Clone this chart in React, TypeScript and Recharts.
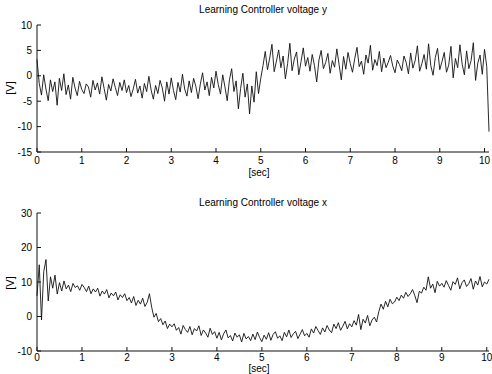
import React from "react";
import { LineChart, Line, XAxis, YAxis } from "recharts";

const SAMPLE_STEP = 0.05; // seconds between samples, 0..10 s

const voltageY = [
  3.2, -1.5, -3.8, 0.2, -2.6, -4.9, -0.8, -3.1, -1.2, -5.8, -0.5, -2.9, 0.4, -3.7, -1.8, -4.6, -0.3, -2.4, -3.9, -1.1, -2.7,
  -3.5, -1.6, -2.2, -4.2, -0.9, -2.8, -1.4, -3.6, -0.2, -2.5, -4.8, -1.7, -3.0, -0.6, -2.3, -3.9, -1.3, -2.9, -0.8, -3.3,
  -1.9, -4.1, -2.6, -0.7, -3.4, -2.0, -4.4, -1.5, -3.1, -0.1, -2.8, -4.6, -1.9, -3.5, -0.9, -2.4, -5.0, -1.2, -3.6, -0.4,
  -2.9, -4.7, -1.3, -3.2, 0.3, -2.6, -4.0, -1.0, -3.3, -0.5, -2.1, -4.5, -1.6, 0.6, -2.8, -1.2, -3.9, -0.3, -2.4, 0.9,
  -1.7, -3.6, 0.2, -2.2, -4.9, -0.8, 1.4, -3.1, -1.0, -6.5, -2.5, 0.5, -4.2, -1.6, -7.5, -2.0, -5.2, 0.8, -3.5, -0.5, 2.0,
  4.8, 1.2, 3.5, 6.2, 0.8, 2.9, 5.1, 1.6, 3.9, -0.6, 2.4, 6.4, 1.0, 3.3, 4.7, 0.2, 2.8, 5.5, 1.9, 3.6,
  0.9, 4.2, 2.0, -1.2, 3.1, 5.0, 1.4, 2.6, 4.4, 0.5, 3.0, 1.7, 5.3, 2.2, -0.8, 3.8, 1.3, 4.6, 2.4, 0.7,
  3.4, 5.6, 1.8, 2.9, 0.3, 4.1, 2.5, 6.0, 1.1, 3.2, 2.0, 4.8, 0.8, 3.5, 1.6, 2.7, 4.0, 1.9, 0.6, 3.1,
  2.2, 1.0, 3.9, 2.6, 0.4, 4.5, 1.5, 3.0, 5.9, 0.9, 2.4, 4.2, 1.3, 6.3, 2.0, 0.1, 3.6, 5.4, 1.2, 2.8,
  4.6, 0.7, 2.1, 5.8, -0.4, 3.4, 1.6, 6.1, 2.3, 0.2, 4.9, 1.4, 3.0, 6.5, -0.9, 2.5, 4.1, 0.3, 5.2, 1.8, -11.0,
];

const voltageX = [
  6.0, 15.0, -1.0, 13.0, 16.5, 4.5, 11.5, 8.2, 12.0, 6.5, 9.8, 7.4, 10.3, 8.0, 9.1, 7.2, 9.6, 8.4, 8.9, 7.6, 9.3,
  8.4, 7.2, 8.8, 6.6, 8.0, 7.1, 8.2, 5.9, 7.4, 6.5, 7.8, 5.4, 6.8, 6.0, 7.1, 4.8, 6.3, 5.5, 6.6, 4.6,
  5.5, 3.9, 5.8, 3.2, 4.7, 3.6, 5.3, 2.9, 4.1, 6.6, 2.7, -0.2, 0.9, -1.5, -0.6, -2.4, -1.3, -3.5, -2.2, -3.0,
  -2.1, -4.0, -3.2, -5.1, -2.6, -3.8, -4.6, -2.9, -5.3, -3.5, -4.2, -2.7, -5.5, -3.9, -4.8, -6.0, -3.4, -5.2, -4.4, -6.3,
  -4.6, -6.8, -5.0, -3.9, -6.2, -5.5, -7.1, -4.8, -6.0, -5.3, -7.4, -4.9, -6.5, -5.8, -7.0, -5.1, -6.7, -4.5, -6.1, -7.3,
  -5.4, -6.6, -4.7, -6.9, -5.2, -4.4, -6.3, -5.6, -7.0, -4.6, -5.9, -3.9, -6.1, -5.0, -4.3, -6.4, -5.1, -3.8, -5.6, -4.9,
  -6.0, -3.6, -4.8, -2.9, -4.1, -5.2, -3.3, -4.5, -2.6, -3.9, -4.7, -2.2, -3.5, -1.8, -4.0, -2.8, -1.4, -3.6, -2.1, -3.0,
  -1.2, -2.5, 0.6, -3.8, -0.8, -1.9, 0.3, -2.7, -1.0, -0.2, -1.6, 1.4, 3.6, 2.1, 4.4, 2.8, 5.0, 3.7, 4.2, 5.6,
  4.6, 6.2, 5.3, 7.0, 5.8, 6.6, 7.8, 6.1, 4.0, 7.3, 6.8, 8.5, 7.6, 11.5, 8.2, 9.4, 6.9, 10.2, 8.8, 9.6,
  8.5, 10.4, 9.0, 7.6, 10.1, 9.3, 11.2, 8.0, 9.8, 10.6, 8.7, 9.5, 11.0, 7.9, 10.3, 9.1, 11.6, 8.6, 10.0, 9.4, 10.8,
];

const timeTicks = [0, 1, 2, 3, 4, 5, 6, 7, 8, 9, 10];
const yTicksTop = [-15, -10, -5, 0, 5, 10];
const yTicksBottom = [-10, 0, 10, 20, 30];

const dataY = voltageY.map((v, i) => ({ t: +(i * SAMPLE_STEP).toFixed(2), v }));
const dataX = voltageX.map((v, i) => ({ t: +(i * SAMPLE_STEP).toFixed(2), v }));

const ink = "#111";
const tickStyle = { fontSize: 10, fill: "#000" };

const textStyle: React.CSSProperties = {
  position: "absolute",
  fontSize: 10,
  color: "#000",
  whiteSpace: "nowrap",
  lineHeight: "10px",
};

function Panel({ data, yTicks, domain, height, top, plotH, labelGap }: {
  data: { t: number; v: number }[];
  yTicks: number[];
  domain: [number, number];
  height: number;
  top: number;
  plotH: number;
  labelGap: number;
}) {
  return (
    <LineChart width={492} height={height} data={data} margin={{ top, right: 3, bottom: 0, left: 7 }}>
      <XAxis
        dataKey="t"
        type="number"
        domain={[0, 10]}
        ticks={timeTicks}
        tick={tickStyle}
        tickSize={-4}
        tickMargin={labelGap}
        stroke={ink}
        height={height - top - plotH}
        interval={0}
      />
      <XAxis xAxisId="top" dataKey="t" type="number" domain={[0, 10]} ticks={timeTicks}
        orientation="top" height={0} tick={false} tickSize={-4} stroke={ink} />
      <YAxis
        type="number"
        domain={domain}
        ticks={yTicks}
        tick={tickStyle}
        tickSize={-4}
        tickMargin={9}
        stroke={ink}
        width={30}
        interval={0}
      />
      <YAxis yAxisId="right" orientation="right" type="number" domain={domain} ticks={yTicks}
        width={0} tick={false} tickSize={-4} stroke={ink} />
      <Line type="linear" dataKey="v" stroke={ink} strokeWidth={0.9} dot={false} isAnimationActive={false} />
    </LineChart>
  );
}

export default function App() {
  return (
    <div style={{ position: "absolute", left: 0, top: 0, width: 492, height: 374, background: "#fff",
      fontFamily: "'Liberation Sans', Arial, sans-serif" }}>
      <div style={{ position: "absolute", left: 0, top: 0 }}>
        <Panel data={dataY} yTicks={yTicksTop} domain={[-15, 10]} height={185} top={25} plotH={127} labelGap={9} />
      </div>
      <div style={{ position: "absolute", left: 0, top: 190 }}>
        <Panel data={dataX} yTicks={yTicksBottom} domain={[-10, 30]} height={184} top={23} plotH={138} labelGap={7} />
      </div>
      <div style={{ ...textStyle, left: 263, top: 5, transform: "translateX(-50%)" }}>Learning Controller voltage y</div>
      <div style={{ ...textStyle, left: 263, top: 198, transform: "translateX(-50%)" }}>Learning Controller voltage x</div>
      <div style={{ ...textStyle, left: 259, top: 168, transform: "translateX(-50%)" }}>[sec]</div>
      <div style={{ ...textStyle, left: 259, top: 364, transform: "translateX(-50%)" }}>[sec]</div>
      <div style={{ ...textStyle, left: 10, top: 88, fontSize: 11, transform: "translate(-50%, -50%) rotate(-90deg)" }}>[V]</div>
      <div style={{ ...textStyle, left: 10, top: 283, fontSize: 11, transform: "translate(-50%, -50%) rotate(-90deg)" }}>[V]</div>
    </div>
  );
}
